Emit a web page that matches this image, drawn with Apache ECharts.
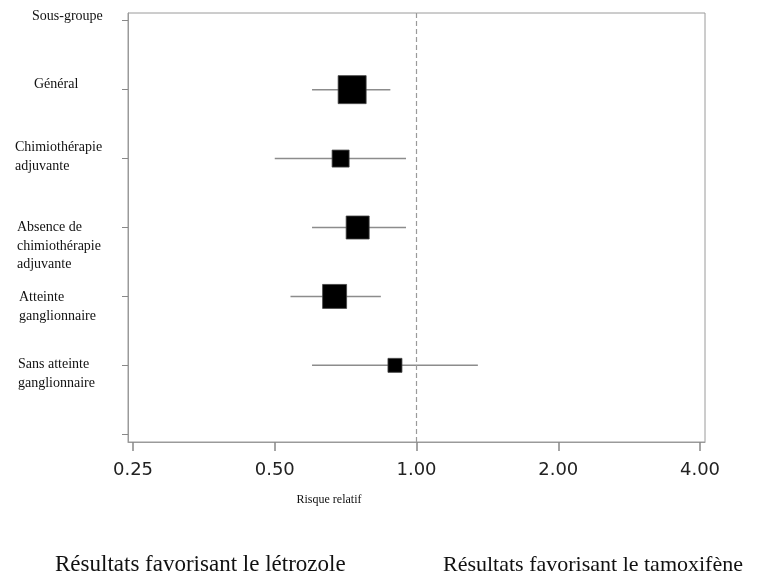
<!DOCTYPE html>
<html>
<head>
<meta charset="utf-8">
<script src="https://cdn.jsdelivr.net/npm/echarts@6/dist/echarts.min.js"></script>
<style>
html,body{margin:0;padding:0;background:#fff;}
#chart{width:772px;height:577px;}
</style>
</head>
<body>
<div id="chart"></div>
<script>
// ---- Data ----
const rowLabels = ['Sous-groupe', 'Général', 'Chimiothérapie\nadjuvante', 'Absence de\nchimiothérapie\nadjuvante', 'Atteinte\nganglionnaire', 'Sans atteinte\nganglionnaire'];
const subgroupRows = [1, 2, 3, 4, 5];
const relativeRisk = [0.73, 0.69, 0.75, 0.67, 0.90];
const ciLow = [0.60, 0.50, 0.60, 0.54, 0.60];
const ciHigh = [0.88, 0.95, 0.95, 0.84, 1.35];
const xTickValues = [0.25, 0.5, 1, 2, 4];
const xTickLabels = ['0.25', '0.50', '1.00', '2.00', '4.00'];
const yTickRows = [0, 1, 2, 3, 4, 5, 6];
const xAxisTitle = 'Risque relatif';
const footLeft = 'Résultats favorisant le létrozole';
const footRight = 'Résultats favorisant le tamoxifène';

// ---- Style / layout (not data) ----
const markerSize = [28, 17, 23, 24, 14];
const labelX = [32, 34, 15, 17, 19, 18];
const labelFirstLineDy = [-4, -5, -11, 0, 1, -1];
const labelLineHeight = 18.5;

const log2 = v => Math.log(v) / Math.LN2;

const chart = echarts.init(document.getElementById('chart'), null, {renderer: 'canvas'});

const whiskerData = subgroupRows.map((r, i) => [log2(ciLow[i]), log2(ciHigh[i]), r]);
const pointData = subgroupRows.map((r, i) => ({value: [log2(relativeRisk[i]), r], symbolSize: markerSize[i]}));

chart.setOption({
  animation: false,
  grid: {left: 128, top: 13, width: 577, height: 429, show: true, borderColor: '#9a9a9a', borderWidth: 1, backgroundColor: 'transparent'},
  xAxis: {
    type: 'value',
    min: log2(0.25) - 5 / 141.75,
    max: log2(4) + 5 / 141.75,
    splitLine: {show: false},
    axisLine: {onZero: false, lineStyle: {color: '#9a9a9a', width: 1}},
    axisTick: {show: true, length: 9, customValues: xTickValues.map(log2), lineStyle: {color: '#888', width: 1.5}},
    axisLabel: {
      customValues: xTickValues.map(log2),
      formatter: v => { const idx = xTickValues.findIndex(t => Math.abs(log2(t) - v) < 1e-6); return idx >= 0 ? xTickLabels[idx] : ''; },
      fontFamily: 'DejaVu Sans', fontSize: 18, color: '#222', margin: 19
    }
  },
  yAxis: {
    type: 'value',
    inverse: true,
    min: -0.112,
    max: 6.112,
    splitLine: {show: false},
    axisLine: {onZero: false, lineStyle: {color: '#9a9a9a', width: 1}},
    axisTick: {show: true, length: 6, customValues: yTickRows, lineStyle: {color: '#888', width: 1}},
    axisLabel: {show: false}
  },
  series: [
    {
      type: 'custom',
      data: whiskerData,
      renderItem: (params, api) => {
        const p1 = api.coord([api.value(0), api.value(2)]);
        const p2 = api.coord([api.value(1), api.value(2)]);
        return {type: 'line', shape: {x1: p1[0], y1: p1[1], x2: p2[0], y2: p2[1]}, style: {stroke: '#8c8c8c', lineWidth: 1.5}};
      },
      markLine: {
        silent: true,
        symbol: 'none',
        label: {show: false},
        lineStyle: {type: [5, 3], color: '#9a9a9a', width: 1.2},
        data: [{xAxis: 0}]
      },
      z: 2
    },
    {
      type: 'scatter',
      symbol: 'rect',
      data: pointData,
      itemStyle: {color: '#000', opacity: 1, borderColor: '#444', borderWidth: 0.8},
      z: 3
    }
  ]
});

const graphics = [];
rowLabels.forEach((lbl, i) => {
  const yPix = chart.convertToPixel({yAxisIndex: 0}, i);
  graphics.push({
    type: 'text', left: labelX[i], top: yPix + labelFirstLineDy[i] - labelLineHeight / 2,
    style: {text: lbl, fontFamily: 'Liberation Serif', fontSize: 14, lineHeight: labelLineHeight, fill: '#111'}
  });
});
graphics.push({type: 'text', x: 329, y: 500, style: {text: xAxisTitle, fontFamily: 'Liberation Serif', fontSize: 12, fill: '#111', align: 'center', verticalAlign: 'middle'}});
graphics.push({type: 'text', x: 55, y: 565, style: {text: footLeft, fontFamily: 'Liberation Serif', fontSize: 23, fill: '#111', align: 'left', verticalAlign: 'middle'}});
graphics.push({type: 'text', x: 443, y: 565, style: {text: footRight, fontFamily: 'Liberation Serif', fontSize: 22, fill: '#111', align: 'left', verticalAlign: 'middle'}});
chart.setOption({graphic: graphics});
</script>
</body>
</html>
